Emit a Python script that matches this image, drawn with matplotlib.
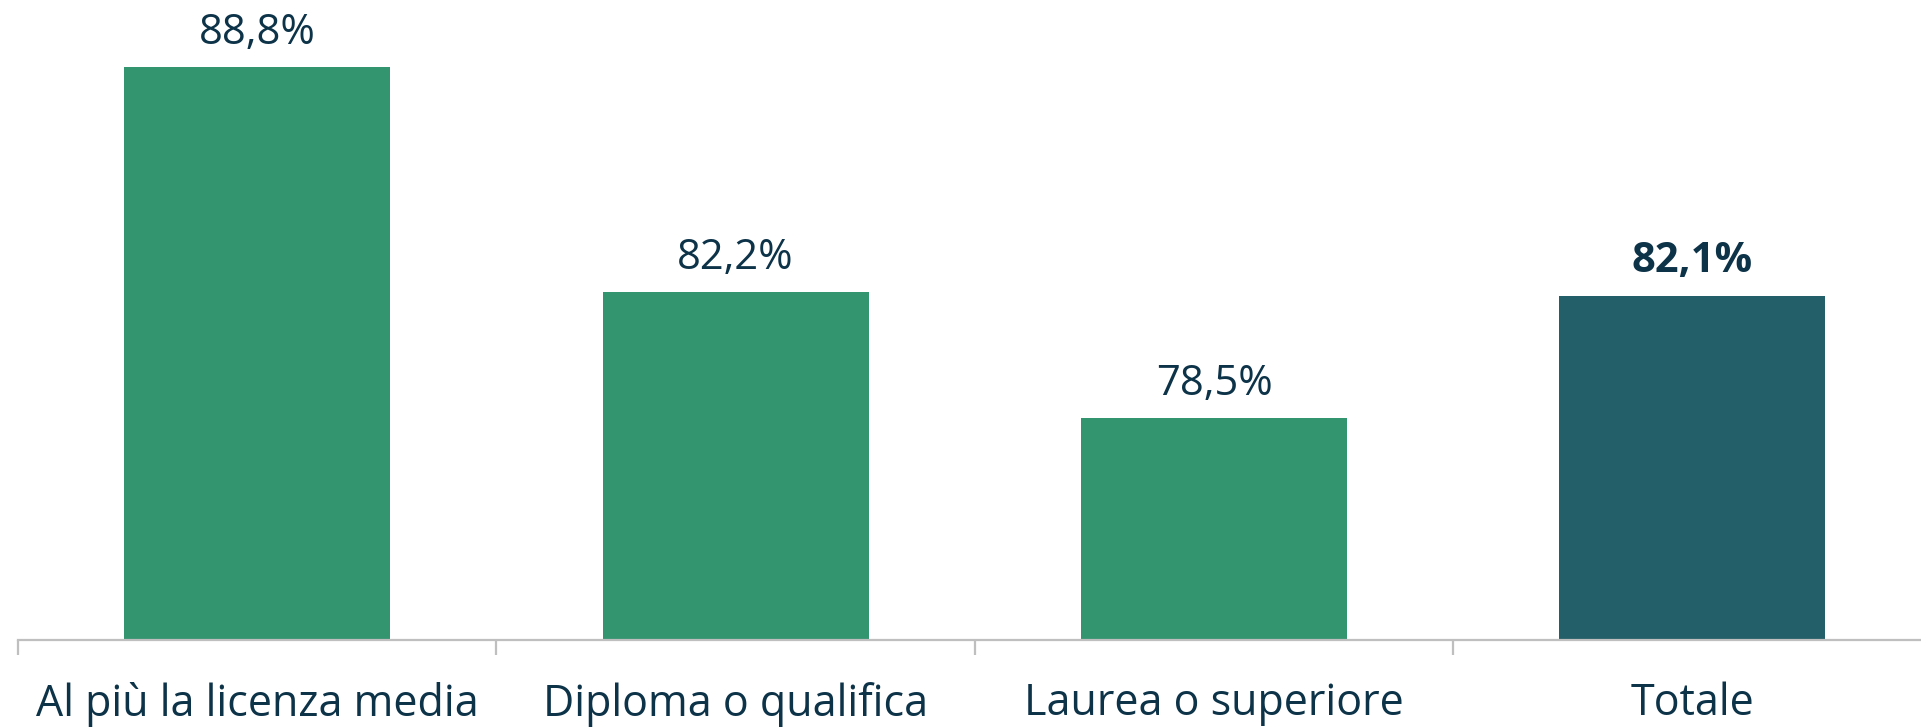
import matplotlib
matplotlib.use("Agg")
import matplotlib.pyplot as plt
import numpy as np

categories = ["Al più la licenza media", "Diploma o qualifica", "Laurea o superiore", "Totale"]
values = [88.8, 82.2, 78.5, 82.1]
labels = ["88,8%", "82,2%", "78,5%", "82,1%"]
bar_colors = ["#339470", "#339470", "#339470", "#235F69"]
bold = [False, False, False, True]

plt.rcParams['font.family'] = ['Open Sans', 'DejaVu Sans']
text_color = "#0D3349"

fig = plt.figure(figsize=(19.21, 7.28), dpi=100)
ax = fig.add_axes([18/1921, 1 - 640/728, 1913.6/1921, 640/728])

x = np.arange(len(categories))
ax.bar(x, values, width=0.556, color=bar_colors, zorder=2)
ax.set_xlim(-0.5, len(categories) - 0.5)
ax.set_ylim(72.0, 90.78)

for xi, v, lab, b in zip(x, values, labels, bold):
    ax.annotate(lab, (xi, v), xytext=(0, 17), textcoords='offset points',
                ha='center', va='baseline', fontsize=30, color=text_color,
                fontweight='bold' if b else 'normal')

for s in ['top', 'right', 'left']:
    ax.spines[s].set_visible(False)
ax.spines['bottom'].set_color('#BFBFBF')
ax.spines['bottom'].set_linewidth(1.6)
ax.set_yticks([])
ax.set_xticks(x)
ax.set_xticklabels(categories, fontsize=31, color=text_color)
ax.tick_params(axis='x', which='major', length=0, pad=30)
ax.set_xticks(np.arange(len(categories) + 1) - 0.5, minor=True)
ax.tick_params(axis='x', which='minor', length=11, width=1.6, color='#BFBFBF')

fig.savefig("out.png", dpi=100)
